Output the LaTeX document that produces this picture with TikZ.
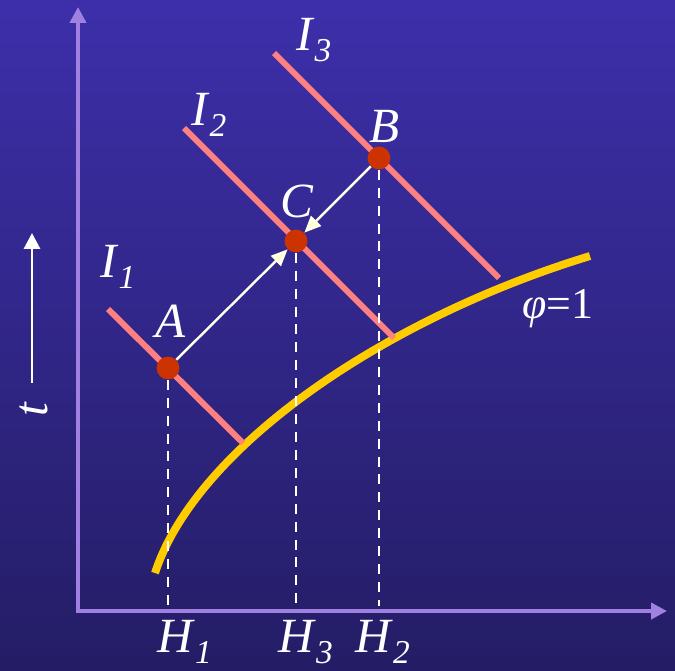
\documentclass[tikz,border=0pt]{standalone}
\usepackage{fontspec}
\setmainfont{Liberation Serif}
\usetikzlibrary{arrows.meta}
\definecolor{bgtop}{RGB}{61, 47, 170}
\definecolor{bgbottom}{RGB}{36, 29, 101}
\definecolor{axislilac}{RGB}{160, 128, 224}
\definecolor{isosalmon}{RGB}{255, 128, 128}
\definecolor{phigold}{RGB}{255, 204, 0}
\definecolor{dotred}{RGB}{204, 51, 0}
\definecolor{arrowcream}{RGB}{255, 255, 204}
\newcommand{\labsub}[2]{\textit{#1}\raisebox{-6.5pt}{\fontsize{19}{19}\selectfont\textit{#2}}}

\begin{document}
\begin{tikzpicture}[
  x=0.02cm, y=-0.02cm,
  axis/.style={line width=2.2pt, axislilac, {Triangle[length=9pt,width=9pt]}-{Triangle[length=9pt,width=9pt]}},
  tarrow/.style={line width=1.7pt, white, -{Triangle[length=9pt,width=9pt]}},
  iso/.style={line width=3.4pt, isosalmon},
  level/.style={line width=4.5pt, phigold},
  guide/.style={line width=1.6pt, white, dash pattern=on 5.7pt off 4.5pt},
  dot/.style={circle, fill=dotred, minimum size=13pt, inner sep=0pt},
  move/.style={line width=1.4pt, arrowcream!40!white, -{Triangle[length=9.5pt,width=8pt,fill=arrowcream]}},
  lab/.style={text=white, inner sep=0pt, font=\fontsize{28}{28}\selectfont}
]
  \useasboundingbox (0,0) rectangle (675,670);
  \shade[top color=bgtop, bottom color=bgbottom] (0,0) rectangle (675,670);

  \coordinate (ytop) at (78,7);
  \coordinate (o) at (78,611);
  \coordinate (xend) at (667,611);
  \draw[axis] (ytop) -- (o) -- (xend);

  \coordinate (tfoot) at (32,383);
  \coordinate (thead) at (32,233);
  \draw[tarrow] (tfoot) -- (thead);
  \node[lab, rotate=90] (tlab) at (34,409) {\textit{t}};

  \draw[level] (155,573) .. controls (195,450) and (380,320) .. (590,256);

  \draw[iso] (108,309) -- (243,443);
  \draw[iso] (184,128) -- (394,338);
  \draw[iso] (274,53) -- (499,278);

  \node[dot] (A) at (168,368) {};
  \node[dot] (C) at (296,241) {};
  \node[dot] (B) at (379,158) {};

  \coordinate (h1) at (168,606);
  \coordinate (h3) at (296,606);
  \coordinate (h2) at (379,606);
  \draw[guide] (A) -- (h1);
  \draw[guide] (C) -- (h3);
  \draw[guide] (B) -- (h2);

  \draw[move] (A) -- (C);
  \draw[move] (B) -- (C);

  \node[lab, anchor=base west] (i1) at (100,277) {\labsub{I}{1}};
  \node[lab, anchor=base west] (i2) at (191,125) {\labsub{I}{2}};
  \node[lab, anchor=base west] (i3) at (296,50) {\labsub{I}{3}};
  \node[lab, anchor=base] (labA) at (171,337) {\textit{A}};
  \node[lab, anchor=base] (labC) at (297,217) {\textit{C}};
  \node[lab, anchor=base] (labB) at (385,142) {\textit{B}};
  \node[lab, anchor=base west] (hh1) at (157,652) {\labsub{H}{1}};
  \node[lab, anchor=base west] (hh3) at (278,652) {\labsub{H}{3}};
  \node[lab, anchor=base west] (hh2) at (355,652) {\labsub{H}{2}};
  \node[lab, anchor=base west, font=\fontsize{25}{25}\selectfont] (phi) at (522,318) {\textit{φ}=1};
\end{tikzpicture}
\end{document}
